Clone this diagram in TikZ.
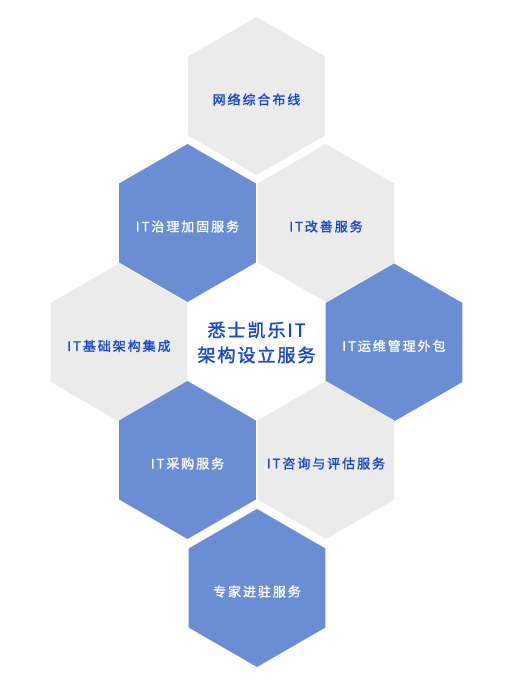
\documentclass[tikz,border=0pt]{standalone}
\usepackage{fontspec}
\usepackage{xcolor}
\usetikzlibrary{shapes.geometric, positioning}
\newfontfamily\cjk[LetterSpace=15, FakeBold=1.5]{Noto Sans CJK SC}
\newfontfamily\cjkbig[LetterSpace=11, FakeBold=1.5]{Noto Sans CJK SC}
\definecolor{hexblue}{RGB}{106,141,212}
\definecolor{hexgray}{RGB}{235,235,235}
\definecolor{textblue}{RGB}{22,72,204}
\newcommand{\hextext}[1]{\makebox[0pt]{\raisebox{-3.5pt}[\height][\depth]{#1}}}

\begin{document}
\begin{tikzpicture}[on grid, hex/.style={regular polygon, regular polygon sides=6, shape border rotate=30, minimum size=158pt, inner sep=0pt, font=\cjk\fontsize{13}{16}\selectfont}, bluehex/.style={hex, fill=hexblue, text=white}, grayhex/.style={hex, fill=hexgray, text=textblue}, whitehex/.style={hex, fill=white, text=textblue, align=center, font=\cjkbig\fontsize{18}{25}\selectfont}]

    \useasboundingbox (0pt,0pt) rectangle (506pt,688pt);

    %Hexagons
    \node[grayhex](network) at (256.5pt,592pt){\hextext{网络综合布线}};
    \node[bluehex](governance)[below left=127pt and 69pt of network]{\hextext{IT治理加固服务}};
    \node[grayhex](improve)[below right=127pt and 69.5pt of network]{\hextext{IT改善服务}};
    \node[whitehex](core)[below right=119.5pt and 69pt of governance]{\makebox[0pt]{悉士凯乐IT}\\\makebox[0pt]{架构设立服务}};
    \node[grayhex](infra)[left=137.5pt of core]{\hextext{IT基础架构集成}};
    \node[bluehex](ops)[right=137.5pt of core]{\hextext{IT运维管理外包}};
    \node[bluehex](purchase)[below left=117.5pt and 69pt of core]{\hextext{IT采购服务}};
    \node[grayhex](consult)[below right=117.5pt and 69.5pt of core]{\hextext{IT咨询与评估服务}};
    \node[bluehex](expert)[below right=128pt and 69.5pt of purchase]{\hextext{专家进驻服务}};

\end{tikzpicture}
\end{document}
